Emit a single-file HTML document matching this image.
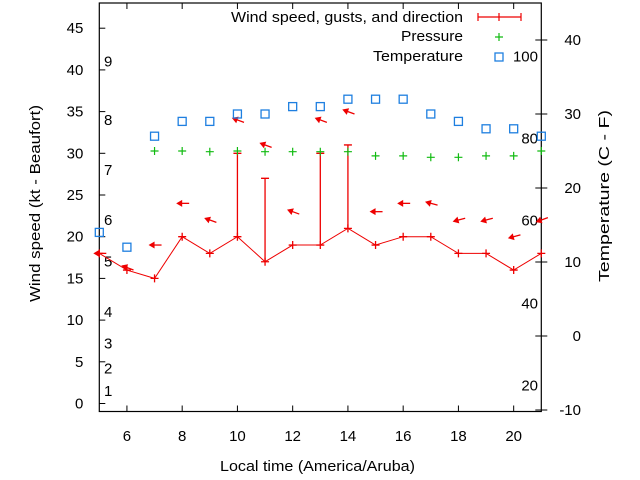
<!DOCTYPE html>
<html><head><meta charset="utf-8"><style>
html,body{margin:0;padding:0;background:#fff}
svg{display:block;font-family:"Liberation Sans",sans-serif}
</style></head><body>
<svg id="chart" width="640" height="480">
<g id="axes"></g>
<g id="marks"></g>
<g id="legend"></g>
</svg>
<script>
const hours=[5,6,7,8,9,10,11,12,13,14,15,16,17,18,19,20,21];
const windSpeed=[18,16,15,20,18,20,17,19,19,21,19,20,20,18,18,16,18];
const windGust=[null,null,null,null,null,30,27,null,30,31,null,null,null,null,null,null,null];
const arrowPos=[18,16.3,19,24,22,34,31,23,34,35,23,24,24,22,22,20,22];
const arrowTilt=[0,20,0,0,20,20,20,20,20,20,0,0,15,-15,-15,-15,-20];
const pressure=[null,null,1014,1014,1013.9,1014,1013.9,1013.9,1013.9,1013.9,1013.3,1013.3,1013.1,1013.1,1013.3,1013.3,1014];
const tempC=[14,12,27,29,29,30,30,31,31,32,32,32,30,29,28,28,27];
const leftTicks=[0,5,10,15,20,25,30,35,40,45];
const rightTicks=[-10,0,10,20,30,40];
const xTicks=[6,8,10,12,14,16,18,20];
const beaufort=[[1,1.5],[2,4.2],[3,7.2],[4,11],[5,17],[6,22],[7,28],[8,34],[9,41]];
const fahr=[[20,-6.7],[40,4.4],[60,15.6],[80,26.7],[100,37.8]];

const L=99.3,R=541.3,T=3,B=411.5;
const FS=15;
const x=h=>L+(h-5)*(R-L)/16;
const y=v=>403.5-v*8.34;
const yT=c=>410-(c+10)*7.4;
const yP=p=>151+(1014-p)*7;
const NS='http://www.w3.org/2000/svg';
function mk(tag,attrs,parent,text){const e=document.createElementNS(NS,tag);for(const k in attrs)e.setAttribute(k,attrs[k]);if(text!==undefined)e.textContent=text;parent.appendChild(e);return e;}
const ax=document.getElementById('axes'),mg=document.getElementById('marks'),lg=document.getElementById('legend');

let fr=mk('rect',{x:L,y:T,width:R-L,height:B-T,fill:'none',stroke:'#000','stroke-width':1.2},ax);


leftTicks.forEach(v=>{
 let t=mk('line',{x1:L,x2:L+6,y1:y(v),y2:y(v),stroke:'#000'},ax);
 
 
 let s=mk('text',{x:L-16,y:y(v)+5,'font-size':FS,'text-anchor':'end'},ax,String(v));
 
 
});
rightTicks.forEach(v=>{
 let t=mk('line',{x1:R-6,x2:R+6,y1:yT(v),y2:yT(v),stroke:'#000'},ax);
 
 
 let s=mk('text',{x:581,y:yT(v)+5,'font-size':FS,'text-anchor':'end'},ax,String(v));
 
 
});
xTicks.forEach(v=>{
 let t=mk('line',{x1:x(v),x2:x(v),y1:B,y2:B-6,stroke:'#000'},ax);
 
 
 let t2=mk('line',{x1:x(v),x2:x(v),y1:T,y2:T+6,stroke:'#000'},ax);
 
 
 let s=mk('text',{x:x(v),y:441,'font-size':FS,'text-anchor':'middle'},ax,String(v));
 
 
});
beaufort.forEach(b=>{
 let s=mk('text',{x:104,y:y(b[1])+5,'font-size':FS},ax,String(b[0]));
 
 
});
fahr.forEach(f=>{
 let s=mk('text',{x:538,y:yT(f[1])+5,'font-size':FS,'text-anchor':'end'},ax,String(f[0]));
 
 
});
let xt=mk('text',{x:220,y:471,'font-size':FS,textLength:195,lengthAdjust:'spacingAndGlyphs'},ax,'Local time (America/Aruba)');


let yt=mk('text',{x:0,y:0,'font-size':FS,textLength:197,lengthAdjust:'spacingAndGlyphs',transform:'translate(40 302) rotate(-90)'},ax,'Wind speed (kt - Beaufort)');


let y2t=mk('text',{x:0,y:0,'font-size':FS,textLength:172,lengthAdjust:'spacingAndGlyphs',transform:'translate(609 282) rotate(-90)'},ax,'Temperature (C - F)');



let pts=hours.map((h,i)=>x(h)+','+y(windSpeed[i])).join(' ');
let wl=mk('polyline',{points:pts,fill:'none',stroke:'#e00','stroke-width':1},mg);


hours.forEach((h,i)=>{
 const px=x(h),py=y(windSpeed[i]);
 let p=mk('path',{d:`M${px-4},${py}H${px+4}M${px},${py-4}V${py+4}`,stroke:'#e00','stroke-width':1.3},mg);
 
 
 if(windGust[i]!=null){
  const gy=y(windGust[i]);
  let g=mk('path',{d:`M${px},${py}V${gy}M${px-4},${gy}H${px+4}`,stroke:'#e00','stroke-width':1.3},mg);
  
  
 }
 const ay=y(arrowPos[i]);
 let a=mk('g',{transform:`translate(${px},${ay}) rotate(${arrowTilt[i]})`},mg);
 
 
 mk('line',{x1:-4,y1:0,x2:7,y2:0,stroke:'#e00','stroke-width':1.3},a);
 mk('path',{d:'M-6,0L0,-3.5L0,3.5Z',fill:'#e00'},a);
 if(pressure[i]!=null){
  const qy=yP(pressure[i]);
  let q=mk('path',{d:`M${px-4},${qy}H${px+4}M${px},${qy-4}V${qy+4}`,stroke:'#1b1','stroke-width':1.2},mg);
  
  
 }
 let sq=mk('rect',{x:px-4,y:yT(tempC[i])-4,width:8,height:8,fill:'none',stroke:'#1e7fe0','stroke-width':1.3},mg);
 
 
});

const legRows=[['Wind speed, gusts, and direction',17,232],['Pressure',36,62],['Temperature',56,90]];
legRows.forEach(r=>{
 let t=mk('text',{x:463-r[2],y:r[1]+5,'font-size':FS,textLength:r[2],lengthAdjust:'spacingAndGlyphs'},lg,r[0]);
 
 
});
let l1=mk('path',{d:'M478,17H521M478,13V21M499,13V21M521,13V21',stroke:'#e00','stroke-width':1.2,fill:'none'},lg);


let l2=mk('path',{d:'M495,37H503M499,33V41',stroke:'#1b1','stroke-width':1.2},lg);


let l3=mk('rect',{x:495,y:53,width:8,height:8,fill:'none',stroke:'#1e7fe0','stroke-width':1.3},lg);


</script>
</body></html>
